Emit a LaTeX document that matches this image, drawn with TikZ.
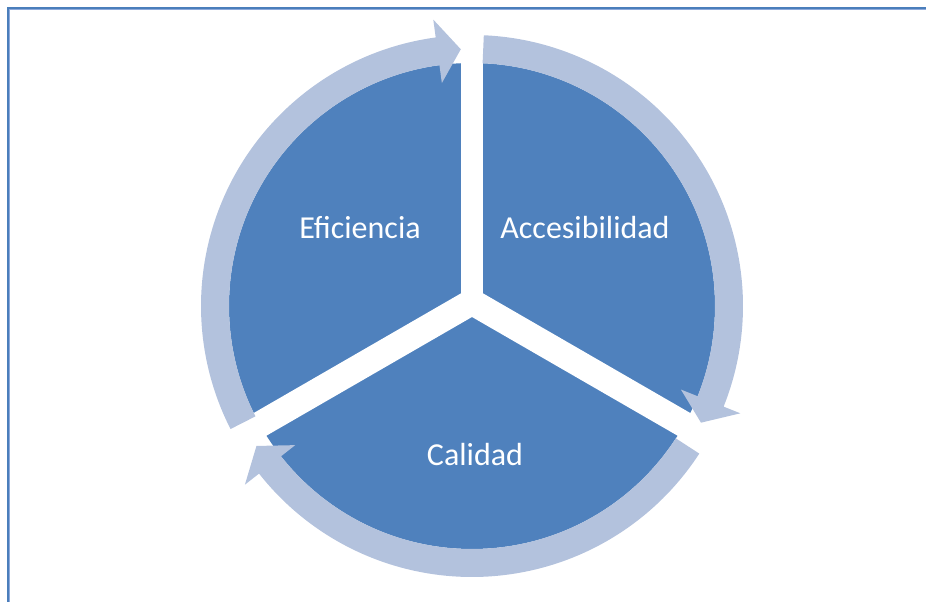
\documentclass[tikz,border=0pt]{standalone}
\usepackage{fontspec}
\setmainfont{Carlito}
\definecolor{slice}{HTML}{4F81BD}
\definecolor{ring}{HTML}{B3C2DD}
\definecolor{frame}{HTML}{4A7EBB}
\definecolor{framelight}{HTML}{8EAADB}
\tikzset{
  segment/.style={fill=slice, draw=none},
  gapband/.style={draw=white, line cap=butt},
  cyclearrow/.style={fill=ring, draw=none},
  label/.style={text=white, font=\fontsize{32}{38}\selectfont, inner sep=0pt}
}
% curved arrow along the ring: #1 tail angle, #2 tip angle (clockwise travel)
\newcommand{\ringarrow}[2]{%
  \pgfmathsetmacro{\basea}{#2+5.2}%
  \fill[cyclearrow] (#1:243) arc[start angle=#1, end angle=\basea, radius=243]
    -- (\basea:225) -- (#2:257) -- (\basea:289) -- (\basea:271)
    arc[start angle=\basea, end angle=#1, radius=271] -- cycle;}
\begin{document}
\begin{tikzpicture}[x=1pt, y=1pt]
  \useasboundingbox (0,0) rectangle (926,602);
  % frame along the top and left
  \draw[frame, line width=2.6] (8,0) -- (8,594) -- (926,594);
  \draw[framelight, line width=1] (9.8,0) -- (9.8,592.2) -- (926,592.2);

  \begin{scope}[shift={(472,296)}]
    % pie
    \fill[segment] (0,0) circle[radius=243];
    % separating gaps
    \coordinate (hub) at (0,4);
    \draw[gapband, line width=22] (hub) -- ++(90:260);
    \draw[gapband, line width=26] (hub) -- ++(210:265);
    \draw[gapband, line width=26] (hub) -- ++(330:265);
    % cycle arrows
    \ringarrow{207}{92.5}
    \ringarrow{87.5}{-27}
    \ringarrow{327}{213}
  \end{scope}

  \node[label] (eficiencia) at (360,374) {Eficiencia};
  \node[label] (accesibilidad) at (585,374) {Accesibilidad};
  \node[label] (calidad) at (475,147) {Calidad};
\end{tikzpicture}
\end{document}
